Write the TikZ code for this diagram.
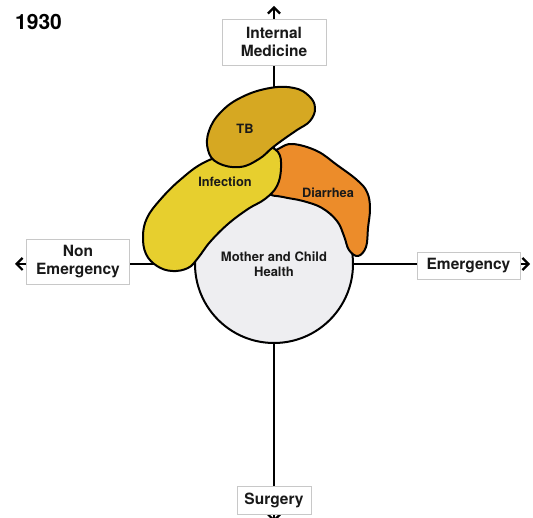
\documentclass[tikz,border=0pt]{standalone}
\usepackage{fontspec}
\setmainfont{TeX Gyre Heros}
\usetikzlibrary{arrows.meta}

\definecolor{tbgold}{RGB}{214,168,34}
\definecolor{infyellow}{RGB}{231,207,46}
\definecolor{diaorange}{RGB}{236,140,42}
\definecolor{mchgray}{RGB}{238,238,241}
\definecolor{boxgray}{RGB}{200,200,200}
\definecolor{ink}{RGB}{25,25,25}

\begin{document}
\begin{tikzpicture}[x=1pt,y=-1pt,
  axis/.style={line width=2pt,black},
  tip/.style={line width=2pt,black,-{Straight Barb[length=6pt,width=12pt,line width=2.2pt]}},
  labelbox/.style={draw=boxgray,line width=0.8pt,fill=white,inner sep=0pt,
    align=center,text=ink,font=\fontsize{15.5}{18.5}\selectfont\bfseries},
  blob/.style={draw=black,line width=2pt,line join=round},
  blobtext/.style={text=ink,font=\fontsize{12.8}{15}\selectfont\bfseries},
  yeartext/.style={text=black,font=\fontsize{21}{24}\selectfont\bfseries}]
\useasboundingbox (0,0) rectangle (533,518);

% axis end labels
\node[labelbox,minimum width=104pt,minimum height=46pt] (im) at (274,42) {Internal\\Medicine};
\node[labelbox,minimum width=103pt,minimum height=45pt] (ne) at (78,261.5) {Non\\Emergency};
\node[labelbox,minimum width=103pt,minimum height=27pt] (em) at (468.5,265.5) {Emergency};
\node[labelbox,minimum width=74pt,minimum height=28pt] (surg) at (274,500) {Surgery};

% axis geometry
\coordinate (c) at (274,264);
\coordinate (topend) at (274,6);
\coordinate (botend) at (274,522);
\coordinate (leftend) at (15,264);
\coordinate (rightend) at (530,264);

% axes
\draw[axis] (im.south) -- (surg.north);
\draw[axis] (ne.east |- c) -- (em.west |- c);
\draw[tip] (im.north) -- (topend);
\draw[tip] (surg.south) -- (botend);
\draw[tip] (ne.west |- leftend) -- (leftend);
\draw[tip] (em.east |- rightend) -- (rightend);

% redraw label boxes above the axes
\node[labelbox,minimum width=104pt,minimum height=46pt] at (im) {Internal\\Medicine};
\node[labelbox,minimum width=103pt,minimum height=45pt] at (ne) {Non\\Emergency};
\node[labelbox,minimum width=103pt,minimum height=27pt] at (em) {Emergency};
\node[labelbox,minimum width=74pt,minimum height=28pt] at (surg) {Surgery};

% Mother and Child Health
\node[circle,draw=black,line width=2pt,fill=mchgray,minimum size=158pt,inner sep=0pt,
  align=center,text=ink,font=\fontsize{13}{15}\selectfont\bfseries] (mch) at (c)
  {Mother and Child\\Health};

% Diarrhea
\draw[blob,fill=diaorange] plot[smooth cycle,tension=0.65] coordinates {
  (280,148) (293,144) (317,151) (337,165) (357,180) (367,192) (370,208)
  (368,228) (366,247) (358,256) (349,250) (344,236) (337,221) (322,208)
  (303,201) (283,197) (267,192) (265,170) (271,155)};

% Infection
\draw[blob,fill=infyellow] plot[smooth cycle,tension=0.65] coordinates {
  (240,150) (205,162) (180,180) (160,200) (147,218) (143,236) (146,254)
  (157,266) (172,271) (188,268) (198,258) (210,242) (228,224) (248,209)
  (265,199) (277,186) (281,168) (278,152) (262,145)};

% TB
\draw[blob,fill=tbgold] plot[smooth cycle,tension=0.7] coordinates {
  (270,88) (294,88) (309,96) (315,108) (310,121) (297,130) (284,139)
  (272,148) (259,159) (240,167) (218,163) (208,150) (209,131) (221,112) (242,97)};

\node[blobtext] (tb) at (245,129) {TB};
\node[blobtext] (inf) at (225,182) {Infection};
\node[blobtext] (dia) at (328,193) {Diarrhea};

\node[yeartext] (year) at (38.5,21.5) {1930};
\end{tikzpicture}
\end{document}
